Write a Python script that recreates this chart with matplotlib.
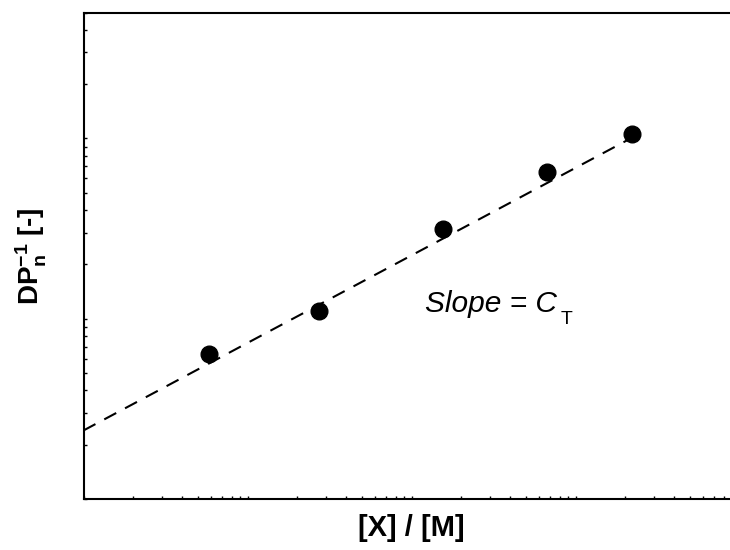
import matplotlib
matplotlib.use("Agg")
import matplotlib.pyplot as plt

plt.rcParams["font.family"] = ["Liberation Sans", "DejaVu Sans"]
plt.rcParams["mathtext.fontset"] = "custom"
plt.rcParams["mathtext.rm"] = "Liberation Sans"
plt.rcParams["mathtext.it"] = "Liberation Sans:italic"
plt.rcParams["mathtext.bf"] = "Liberation Sans:bold"

# Measured chain-transfer data: [X]/[M] against inverse degree of polymerisation
ratio_xm = [5.8, 27.3, 156, 670, 2210]
inv_dpn = [0.64, 1.11, 3.16, 6.5, 10.6]

# Fitted Mayo line (straight on log-log axes)
fit_x = [1.0, 2210]
fit_y = [0.24, 10.1]

x_limits = (1.0, 1.0e4)
y_limits = (0.1, 50.0)

fig = plt.figure(figsize=(7.3, 5.5), dpi=100)
ax = fig.add_axes([83.5 / 730, 51 / 550, 656 / 730, 486.5 / 550])
ax.set_xscale("log")
ax.set_yscale("log")
ax.set_xlim(*x_limits)
ax.set_ylim(*y_limits)

ax.plot(fit_x, fit_y, color="black", lw=1.5, dashes=(6.5, 4.8))
ax.plot(ratio_xm, inv_dpn, "o", color="black", ms=12, zorder=3)

for side in ("left", "bottom", "top"):
    ax.spines[side].set_linewidth(1.5)
ax.spines["right"].set_visible(False)
ax.tick_params(which="both", direction="in", length=2, width=1,
               labelbottom=False, labelleft=False)

ax.set_xlabel("[X] / [M]", fontsize=21, fontweight="bold", labelpad=11)
ax.set_ylabel(r"$\mathbf{DP}_{\mathbf{n}}^{\mathbf{-1}}$ [-]", fontsize=20,
              fontweight="bold", labelpad=25)

t = ax.text(0.52, 0.384, "Slope = C", transform=ax.transAxes,
            fontsize=21.5, fontstyle="italic", va="baseline", ha="left")
fig.canvas.draw()
bb = t.get_window_extent(fig.canvas.get_renderer())
fig.text((bb.x1 + 4) / 730, (bb.y0 + 1) / 550 - 0.013, "T", fontsize=14,
         va="baseline", ha="left")

fig.savefig("out.png", dpi=100)
